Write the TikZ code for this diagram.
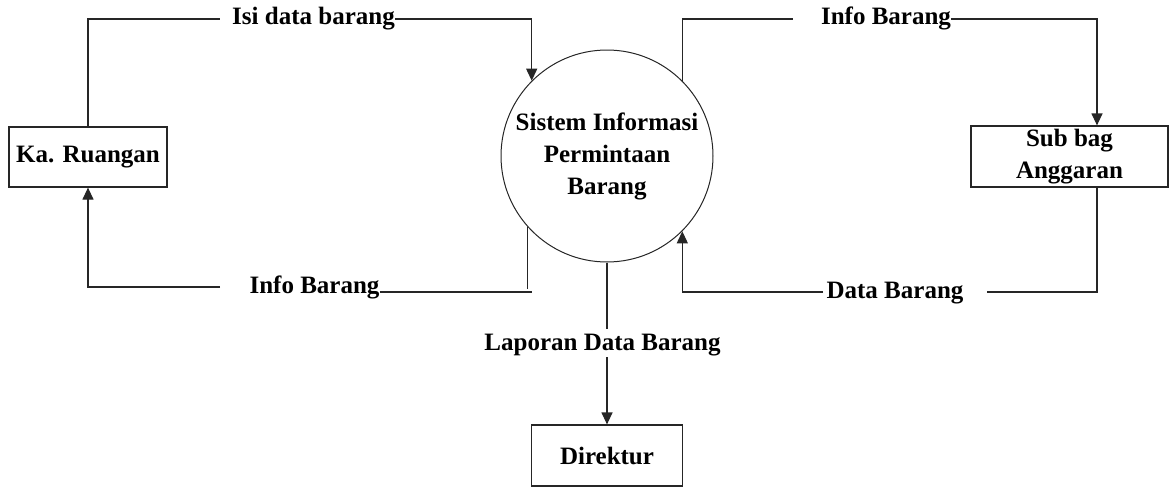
\documentclass[tikz,border=0pt]{standalone}
\usepackage{fontspec}
\setmainfont{Liberation Serif}
\usetikzlibrary{arrows.meta}
\begin{document}
\begin{tikzpicture}[x=0.5pt,y=-0.5pt,
  every node/.style={font=\fontsize{12.5}{16}\selectfont\bfseries},
  entity/.style={draw=black!85,line width=0.6pt,inner sep=0pt,align=center},
  process/.style={circle,draw=black!85,line width=0.5pt,minimum size=106pt,inner sep=0pt,align=center},
  flowlabel/.style={inner sep=0pt,text height=0.75em,text depth=0.15em},
  flow/.style={draw=black!85,line width=0.6pt},
  tip/.style={flow,-{Triangle[width=5.5pt,length=6pt]}}]
\useasboundingbox (0,0) rectangle (1169,487);

% external entities and the process
\node[entity,minimum width=79pt,minimum height=30pt] (ka) at (88,157) {Ka. Ruangan};
\node[process] (c) at (607,156) {Sistem Informasi\\Permintaan\\Barang};
\node[entity,minimum width=98.5pt,minimum height=30.5pt] (sub) at (1069.5,156.5) {Sub bag\\Anggaran};
\node[entity,minimum width=75.5pt,minimum height=30.5pt] (dir) at (607,455.5) {Direktur};

% data flow labels
\node[flowlabel] (isi) at (313.5,19) {Isi data barang};
\node[flowlabel] (infoA) at (886,19) {Info Barang};
\node[flowlabel] (infoB) at (314.5,287) {Info Barang};
\node[flowlabel] (lap) at (602.5,344) {Laporan Data Barang};
\node[flowlabel] (data) at (895,292) {Data Barang};
\coordinate (joint) at (532,292);

% Ka. Ruangan -> system
\draw[flow] (ka.north) |- ([xshift=-6pt]isi.west);
\draw[tip] (isi.east) -| (c.135);

% system -> Sub bag Anggaran
\draw[flow] (c.45) |- ([xshift=-14pt]infoA.west);
\draw[tip] (infoA.east) -| ([xshift=13.75pt]sub.north);

% Sub bag Anggaran -> system
\draw[flow] ([xshift=13.75pt]sub.south) |- ([xshift=11.5pt]data.east);
\draw[tip] ([xshift=-1.5pt]data.west) -| (c.315);

% system -> Ka. Ruangan
\draw[flow] (c.222) -- ++(0,62);
\draw[flow] ([yshift=-2.5pt]infoB.east) -- (joint);
\draw[tip] ([xshift=-14.5pt]infoB.west) -| (ka.south);

% system -> Direktur
\draw[flow] (c.south) -- ([yshift=3pt]c.south |- lap.north);
\draw[tip] ([yshift=-2pt]c.south |- lap.south) -- (dir.north);
\end{tikzpicture}
\end{document}
